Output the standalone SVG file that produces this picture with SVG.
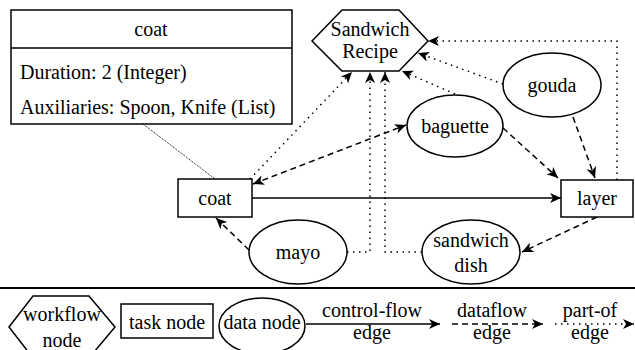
<svg xmlns="http://www.w3.org/2000/svg" width="635" height="350" viewBox="0 0 635 350" font-family="Liberation Serif" font-size="20">
<style>
text{font-family:"Liberation Serif",serif;font-size:20px;fill:#000;}
.c{text-anchor:middle;}
.n{fill:#fff;stroke:#000;stroke-width:1.5;}
.e{fill:none;stroke:#000;stroke-width:1.5;}
.df{stroke-dasharray:6 4;}
.po{stroke-dasharray:1.5 4.5;}
.ln{fill:none;stroke:#000;stroke-width:1;stroke-dasharray:1 1;}
</style>
<defs>
<marker id="ah" markerUnits="userSpaceOnUse" markerWidth="12" markerHeight="12" refX="11" refY="5" orient="auto-start-reverse" viewBox="0 0 12 10">
<path d="M0,0 L11,5 L0,10 L3,5 Z" fill="#000"/>
</marker>
</defs>
<rect width="635" height="350" fill="#fff"/>
<g id="coat-info">
<rect class="n" x="11" y="10" width="281" height="114"/>
<line x1="11" y1="48" x2="292" y2="48" stroke="#000" stroke-width="1.5"/>
<text class="c" x="151" y="36">coat</text>
<text x="20" y="79">Duration: 2 (Integer)</text>
<text x="20" y="114">Auxiliaries: Spoon, Knife (List)</text>
</g>
<g id="connectors">
<path class="ln" d="M143,124 L215,179"/>
<path class="e" d="M252,198 L561,198" marker-end="url(#ah)"/>
<path class="e df" d="M253,184 L406,125" marker-start="url(#ah)" marker-end="url(#ah)"/>
<path class="e df" d="M503,128 L558,178" marker-end="url(#ah)"/>
<path class="e df" d="M573,117 L595,178" marker-end="url(#ah)"/>
<path class="e df" d="M597,217 L522,252" marker-end="url(#ah)"/>
<path class="e df" d="M249,250 L216,218" marker-end="url(#ah)"/>
<path class="e po" d="M250,179 L352,72" marker-end="url(#ah)"/>
<path class="e po" d="M347,252 L370,252 L370,72" marker-end="url(#ah)"/>
<path class="e po" d="M422,252 L385,252 L385,72" marker-end="url(#ah)"/>
<path class="e po" d="M455,94 L402,71" marker-end="url(#ah)"/>
<path class="e po" d="M503,84 L418,53" marker-end="url(#ah)"/>
<path class="e po" d="M617,180 L617,41 L428,41" marker-end="url(#ah)"/>
</g>
<g id="recipe">
<polygon class="n" points="312,41 342,10 399,10 428,41 399,71 342,71"/>
<text class="c" x="370" y="36">Sandwich</text>
<text class="c" x="370" y="58">Recipe</text>
</g>
<g id="coat">
<rect class="n" x="178" y="179" width="74" height="38"/>
<text class="c" x="215" y="205">coat</text>
</g>
<g id="layer">
<rect class="n" x="561" y="180" width="72" height="37"/>
<text class="c" x="597" y="205">layer</text>
</g>
<g id="baguette">
<ellipse class="n" cx="455" cy="126" rx="48" ry="31"/>
<text class="c" x="455" y="133">baguette</text>
</g>
<g id="gouda">
<ellipse class="n" cx="552" cy="85" rx="49" ry="32"/>
<text class="c" x="552" y="92">gouda</text>
</g>
<g id="mayo">
<ellipse class="n" cx="298" cy="252" rx="49" ry="32"/>
<text class="c" x="298" y="259">mayo</text>
</g>
<g id="sandwich-dish">
<ellipse class="n" cx="471" cy="252" rx="49" ry="32"/>
<text class="c" x="471" y="247">sandwich</text>
<text class="c" x="471" y="272">dish</text>
</g>
<line x1="0" y1="288" x2="635" y2="288" stroke="#000" stroke-width="2"/>
<g id="legend">
<polygon class="n" points="9,327 33,296 89,296 115,327 89,358 33,358"/>
<text class="c" x="62" y="321">workflow</text>
<text class="c" x="62" y="347">node</text>
<rect class="n" x="121" y="304" width="92" height="34"/>
<text class="c" x="167" y="329">task node</text>
<ellipse class="n" cx="262" cy="326" rx="43" ry="28"/>
<text class="c" x="262" y="329">data node</text>
<path class="e" d="M306,324 L440,324" marker-end="url(#ah)"/>
<text class="c" x="372" y="317">control-flow</text>
<text class="c" x="372" y="339">edge</text>
<path class="e df" d="M452,324 L543,324" marker-end="url(#ah)"/>
<text class="c" x="492" y="317">dataflow</text>
<text class="c" x="492" y="339">edge</text>
<path class="e po" d="M555,324 L634,324" marker-end="url(#ah)"/>
<text class="c" x="590" y="317">part-of</text>
<text class="c" x="590" y="339">edge</text>
</g>
</svg>
